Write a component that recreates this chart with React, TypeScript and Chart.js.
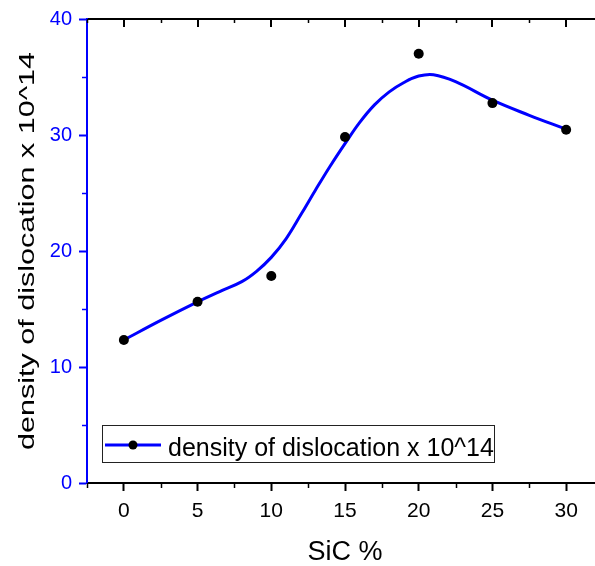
import React, { useEffect, useRef } from "react";
import { Chart, registerables } from "chart.js";

Chart.register(...registerables);

const FONT = 'Arial, "Liberation Sans", sans-serif';

// Measured data
const SIC = [0, 5, 10, 15, 20, 25, 30];
const DENSITY = [12.33, 15.62, 17.84, 29.83, 37.0, 32.75, 30.46];

// Smooth fitted curve
const FIT_X = [0, 2.5, 5, 6.5, 8, 9, 10, 11, 12, 13, 14, 15, 16, 17, 18, 19, 20, 21, 22.5, 25, 27.5, 30];
const FIT_Y = [12.33, 14.02, 15.62, 16.5, 17.36, 18.25, 19.45, 21.05, 23.12, 25.26, 27.33, 29.26, 31.09, 32.6, 33.72, 34.53, 35.08, 35.2, 34.6, 33.0, 31.7, 30.5];

// Axes
const X_MIN = -2.5;
const X_MAX = 32.5;
const X_TICKS = [0, 5, 10, 15, 20, 25, 30];
const X_MINOR = [-2.5, 2.5, 7.5, 12.5, 17.5, 22.5, 27.5, 32.5];
const Y_MIN = 0;
const Y_MAX = 40;
const Y_TICKS = [0, 10, 20, 30, 40];
const Y_MINOR = [5, 15, 25, 35];

const X_TITLE = "SiC %";
const Y_TITLE = "density of dislocation x 10^14";
const LEGEND_LABEL = "density of dislocation x 10^14";

const BLUE = "#0000ff";

const overlayPlugin = {
  id: "overlay",
  afterDraw(chart: any) {
    const { ctx, chartArea, scales } = chart;
    const xs = scales.x;
    const ys = scales.y;
    const { left, top, bottom } = chartArea;
    ctx.save();

    // bottom minor ticks
    ctx.strokeStyle = "#000";
    ctx.lineWidth = 1.5;
    X_MINOR.forEach((v) => {
      const px = Math.round(xs.getPixelForValue(v)) + 0.5;
      ctx.beginPath();
      ctx.moveTo(px, bottom);
      ctx.lineTo(px, bottom + 5);
      ctx.stroke();
    });
    // top inward ticks
    ctx.lineWidth = 2;
    X_TICKS.forEach((v) => {
      const px = Math.round(xs.getPixelForValue(v));
      ctx.beginPath();
      ctx.moveTo(px, top);
      ctx.lineTo(px, top + 8);
      ctx.stroke();
    });
    ctx.lineWidth = 1.5;
    X_MINOR.forEach((v) => {
      const px = Math.round(xs.getPixelForValue(v)) + 0.5;
      ctx.beginPath();
      ctx.moveTo(px, top);
      ctx.lineTo(px, top + 4);
      ctx.stroke();
    });
    // y minor ticks
    ctx.strokeStyle = BLUE;
    Y_MINOR.forEach((v) => {
      const py = Math.round(ys.getPixelForValue(v)) + 0.5;
      ctx.beginPath();
      ctx.moveTo(left - 5, py);
      ctx.lineTo(left, py);
      ctx.stroke();
    });

    // legend
    ctx.strokeStyle = "#222";
    ctx.lineWidth = 1;
    ctx.strokeRect(102.5, 425.5, 392, 37);
    ctx.strokeStyle = BLUE;
    ctx.lineWidth = 3;
    ctx.beginPath();
    ctx.moveTo(105, 445);
    ctx.lineTo(161, 445);
    ctx.stroke();
    ctx.fillStyle = "#000";
    ctx.beginPath();
    ctx.arc(133, 445, 4.5, 0, Math.PI * 2);
    ctx.fill();
    ctx.font = `25px ${FONT}`;
    ctx.textAlign = "left";
    ctx.textBaseline = "alphabetic";
    ctx.fillText(LEGEND_LABEL, 168, 456);

    // y title (stretched along its length as in the original)
    const cy = (top + bottom) / 2;
    ctx.translate(33.5, cy);
    ctx.rotate(-Math.PI / 2);
    ctx.scale(1.42, 1);
    ctx.font = `21.5px ${FONT}`;
    ctx.textAlign = "center";
    ctx.fillStyle = "#000";
    ctx.fillText(Y_TITLE, 0, 0);
    ctx.restore();
  },
};

export default function App() {
  const ref = useRef<HTMLCanvasElement | null>(null);
  useEffect(() => {
    if (!ref.current) return;
    Chart.defaults.font.family = FONT;
    const chart = new Chart(ref.current, {
      type: "scatter",
      data: {
        datasets: [
          {
            label: LEGEND_LABEL,
            data: SIC.map((x, i) => ({ x, y: DENSITY[i] })),
            backgroundColor: "#000",
            borderColor: "#000",
            borderWidth: 0,
            pointRadius: 5,
            showLine: false,
            order: 0,
          },
          {
            label: "fit",
            data: FIT_X.map((x, i) => ({ x, y: FIT_Y[i] })),
            borderColor: BLUE,
            borderWidth: 3,
            pointRadius: 0,
            showLine: true,
            fill: false,
            tension: 0.4,
            order: 1,
          },
        ],
      } as any,
      options: {
        animation: false,
        responsive: false,
        devicePixelRatio: 1,
        layout: { padding: 0 },
        plugins: {
          legend: { display: false },
          tooltip: { enabled: false },
        },
        scales: {
          x: {
            type: "linear",
            position: "bottom",
            min: X_MIN,
            max: X_MAX,
            afterBuildTicks: (s: any) => {
              s.ticks = X_TICKS.map((v) => ({ value: v }));
            },
            afterFit: (s: any) => {
              s.height = 83;
            },
            ticks: {
              color: "#000",
              font: { size: 21 },
              padding: 8,
              maxRotation: 0,
              autoSkip: false,
            },
            grid: {
              drawOnChartArea: false,
              drawTicks: true,
              tickLength: 8,
              tickColor: "#000",
              tickWidth: 2,
            },
            border: { color: "#000", width: 2 },
            title: {
              display: true,
              text: X_TITLE,
              color: "#000",
              font: { size: 27, lineHeight: 1 },
              padding: { top: 0, bottom: 0 },
            },
          },
          x2: {
            type: "linear",
            axis: "x",
            position: "top",
            min: X_MIN,
            max: X_MAX,
            afterFit: (s: any) => {
              s.height = 19;
            },
            ticks: { display: false },
            grid: { display: false, drawTicks: false },
            border: { color: "#000", width: 2 },
          },
          y: {
            type: "linear",
            position: "left",
            min: Y_MIN,
            max: Y_MAX,
            afterBuildTicks: (s: any) => {
              s.ticks = Y_TICKS.map((v) => ({ value: v }));
            },
            afterFit: (s: any) => {
              s.width = 87;
            },
            ticks: {
              color: BLUE,
              font: { size: 20 },
              padding: 7,
            },
            grid: {
              drawOnChartArea: false,
              drawTicks: true,
              tickLength: 8,
              tickColor: BLUE,
              tickWidth: 2,
            },
            border: { color: BLUE, width: 2 },
          },
        },
      } as any,
      plugins: [overlayPlugin],
    });
    return () => chart.destroy();
  }, []);

  return (
    <div
      style={{
        position: "fixed",
        left: 0,
        top: 0,
        width: 595,
        height: 566,
        overflow: "hidden",
        background: "#fff",
      }}
    >
      <canvas ref={ref} width={608} height={566} style={{ display: "block", width: 608, height: 566 }} />
    </div>
  );
}
